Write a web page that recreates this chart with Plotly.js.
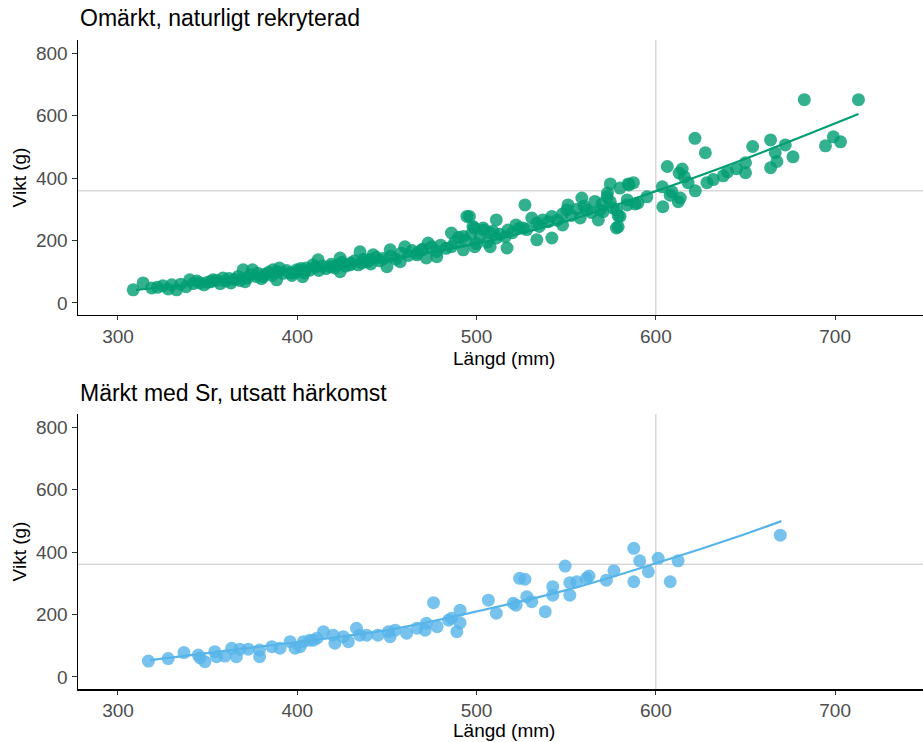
<!DOCTYPE html>
<html>
<head>
<meta charset="utf-8">
<script src="https://cdn.plot.ly/plotly-3.0.1.min.js"></script>
<style>html,body{margin:0;padding:0;background:#fff;}#chart{width:923px;height:742px;}</style>
</head>
<body>
<div id="chart"></div>
<script>
// Panel titles
const panelTitles = ["Omärkt, naturligt rekryterad", "Märkt med Sr, utsatt härkomst"];
const xTitle = "Längd (mm)";
const yTitle = "Vikt (g)";
const xTickVals = [300, 400, 500, 600, 700];
const yTickVals = [0, 200, 400, 600, 800];
const refLength = 600;
const refWeightTop = 359;
const refWeightBottom = 361;

// Top panel: unmarked, naturally recruited
const topLength = [308.5,314,318.8,322,325,328,330,332.7,335,338,340,342,344,345.8,348,350,352,353,355,357,358.6,360,362,363,365,367,368,369.8,370.9,372,374,375,377,378,380,381,382,384,386,386.5,388.5,389,390,392,394,396,397,397.7,399.7,400,402,403,404,405,407,408.8,410,411.6,412,414,416,418.3,419,421,422.8,423.9,423.9,425,427,429.5,430,432,434,435,436,437,439,440.6,441,442.3,444,446,448,450,451.8,452,455,457.4,458,460,462,464,466.7,467,469.5,470,472,473,475,477.8,477.8,480,483,486,486,488,490,492.6,492.6,494,494.6,496,497,498,498.7,499,500,502,503.7,504,506,507.6,507.6,509,511,511,513,516,517,517.6,520,522,524,526,527,528,530.8,533.6,533.6,535,537,540,542,542,545,548,548,550.4,551,553,556,557.8,558.7,560,561.5,564,566,567.9,569,570,570.6,572.8,573,574.6,574.6,576,578,578,579,579,580,580,584,584,584.6,585,587.5,588.5,590,595,603.6,603.9,606.4,608,609,612.5,613,613.6,614.7,615.9,618,621.8,622,627.6,628.5,632,637.6,640,645,650,650,654,664,664,666.6,667.5,672.2,676.5,682.8,694.6,699,703,713];
const topWeight = [42,64,48,50,55,45,58,42,60,52,74,62,70,64,58,66,68,74,72,62,80,70,78,64,75,85,72,106,68,80,90,106,85,95,78,84,92,98,88,106,74,100,112,95,104,96,88,96,106,100,110,84,96,112,105,122,115,138,104,118,110,116,124,112,122,144,100,130,118,122,128,135,122,164,128,140,132,138,125,154,146,135,142,116,170,150,140,132,160,180,152,168,154,160,170,172,144,192,180,148,165,185,175,224,180,195,210,213,170,200,277,277,220,245,240,180,190,215,240,234,195,180,224,230,266,208,220,212,176,234,225,250,240,240,314,235,272,256,202,245,266,260,277,208,265,250,285,298,314,280,300,272,336,310,298,290,325,266,298,318,292,340,352,324,381,304,298,240,279,244,368,277,330,314,381,378,385,317,320,340,372,308,437,345,356,324,416,336,429,404,385,527,359,481,385,395,407,420,430,449,417,501,522,433,481,453,506,468,651,503,532,516,651];
const topFitLength = [310, 350, 400, 450, 500, 550, 600, 650, 713];
const topFitWeight = [42, 64, 97, 138, 190, 262, 358, 462, 605];

// Bottom panel: marked with Sr, stocked origin
const botLength = [317,328,336.8,344.8,345.8,348.5,354,355,359.7,363.4,366,368,372.7,378.9,379,385.8,390.4,396,398.8,401.6,403.4,407,409,411,414.6,420,421,425.7,428.5,433,434.9,438.7,445,450.9,451.8,454.6,461,466.7,471.3,472,476,478,484.4,486,489,490.8,490.8,506.6,511,520.5,522,524,527,528,530.8,538.3,542.5,542.5,549.4,552,552,555.8,561.3,562.7,572.4,576.6,587.7,587.7,591,595.8,601.3,608,612.4,669.4];
const botWeight = [51,59,78,70,61,49,81,65,67,92,65,89,89,86,65,97,92,113,92,97,113,118,118,124,145,134,108,129,113,156,134,134,134,145,129,150,140,156,150,172,238,161,182,188,145,214,173,246,204,236,230,316,313,257,241,209,289,262,355,302,262,305,316,323,310,340,412,305,372,337,380,305,372,454];
const botFitLength = [318, 400, 450, 491, 550, 600, 650, 670];
const botFitWeight = [54, 112, 150, 198, 278, 364, 458, 499];

const green = "#009E73";
const blue = "#56B4E9";
const refColor = "#c4c4c4";

const traces = [
  {x: topLength, y: topWeight, type: "scatter", mode: "markers", xaxis: "x", yaxis: "y",
   marker: {color: green, size: 13, opacity: 0.8, line: {width: 0}}, hoverinfo: "skip"},
  {x: topFitLength, y: topFitWeight, type: "scatter", mode: "lines", xaxis: "x", yaxis: "y",
   line: {color: green, width: 2.2, shape: "spline"}, hoverinfo: "skip"},
  {x: botLength, y: botWeight, type: "scatter", mode: "markers", xaxis: "x2", yaxis: "y2",
   marker: {color: blue, size: 13, opacity: 0.8, line: {width: 0}}, hoverinfo: "skip"},
  {x: botFitLength, y: botFitWeight, type: "scatter", mode: "lines", xaxis: "x2", yaxis: "y2",
   line: {color: blue, width: 2.2, shape: "spline"}, hoverinfo: "skip"}
];

const fam = "Liberation Sans, Arial, sans-serif";
const tickFont = {family: fam, size: 19, color: "#4d4d4d"};
const titleFont = {family: fam, size: 19, color: "#000"};

function xAxis(anchor) {
  return {anchor: anchor, range: [277.7, 749], tickvals: xTickVals, ticks: "outside", ticklen: 4,
    tickcolor: "#333", tickwidth: 1, showline: true, linecolor: "#000", linewidth: 1.5,
    showgrid: false, zeroline: false, tickfont: tickFont};
}
function yAxis(anchor, domain) {
  return {anchor: anchor, domain: domain, range: [-38.5, 842], tickvals: yTickVals, ticks: "outside",
    ticklen: 5, tickcolor: "#333", tickwidth: 1, showline: true, linecolor: "#000", linewidth: 1.5,
    showgrid: false, zeroline: false, tickfont: tickFont,
    title: {text: yTitle, font: titleFont, standoff: 4}};
}

const layout = {
  width: 923, height: 742,
  margin: {l: 78, r: 0, t: 40, b: 53},
  paper_bgcolor: "#fff", plot_bgcolor: "#fff",
  showlegend: false,
  font: {family: fam},
  xaxis: xAxis("y"),
  yaxis: yAxis("x", [0.5763, 1]),
  xaxis2: xAxis("y2"),
  yaxis2: yAxis("x2", [0, 0.4237]),
  shapes: [
    {type: "line", xref: "x", yref: "y domain", x0: refLength, x1: refLength, y0: 0, y1: 1, line: {color: refColor, width: 1}, layer: "below"},
    {type: "line", xref: "x domain", yref: "y", x0: 0, x1: 1, y0: refWeightTop, y1: refWeightTop, line: {color: refColor, width: 1}, layer: "below"},
    {type: "line", xref: "x2", yref: "y2 domain", x0: refLength, x1: refLength, y0: 0, y1: 1, line: {color: refColor, width: 1}, layer: "below"},
    {type: "line", xref: "x2 domain", yref: "y2", x0: 0, x1: 1, y0: refWeightBottom, y1: refWeightBottom, line: {color: refColor, width: 1}, layer: "below"}
  ],
  annotations: [
    {text: panelTitles[0], xref: "paper", yref: "paper", x: 0, y: 1, yshift: 22, xanchor: "left", yanchor: "middle",
     showarrow: false, font: {family: fam, size: 23, color: "#000"}},
    {text: panelTitles[1], xref: "paper", yref: "paper", x: 0, y: 0.4237, yshift: 21, xanchor: "left", yanchor: "middle",
     showarrow: false, font: {family: fam, size: 23, color: "#000"}},
    {text: xTitle, xref: "paper", yref: "paper", x: 0.504, y: 0.5085, xanchor: "center", yanchor: "middle",
     showarrow: false, font: titleFont},
    {text: xTitle, xref: "paper", yref: "paper", x: 0.504, y: -0.0632, xanchor: "center", yanchor: "middle",
     showarrow: false, font: titleFont}
  ]
};

Plotly.newPlot("chart", traces, layout, {staticPlot: true, displayModeBar: false});
</script>
</body>
</html>
